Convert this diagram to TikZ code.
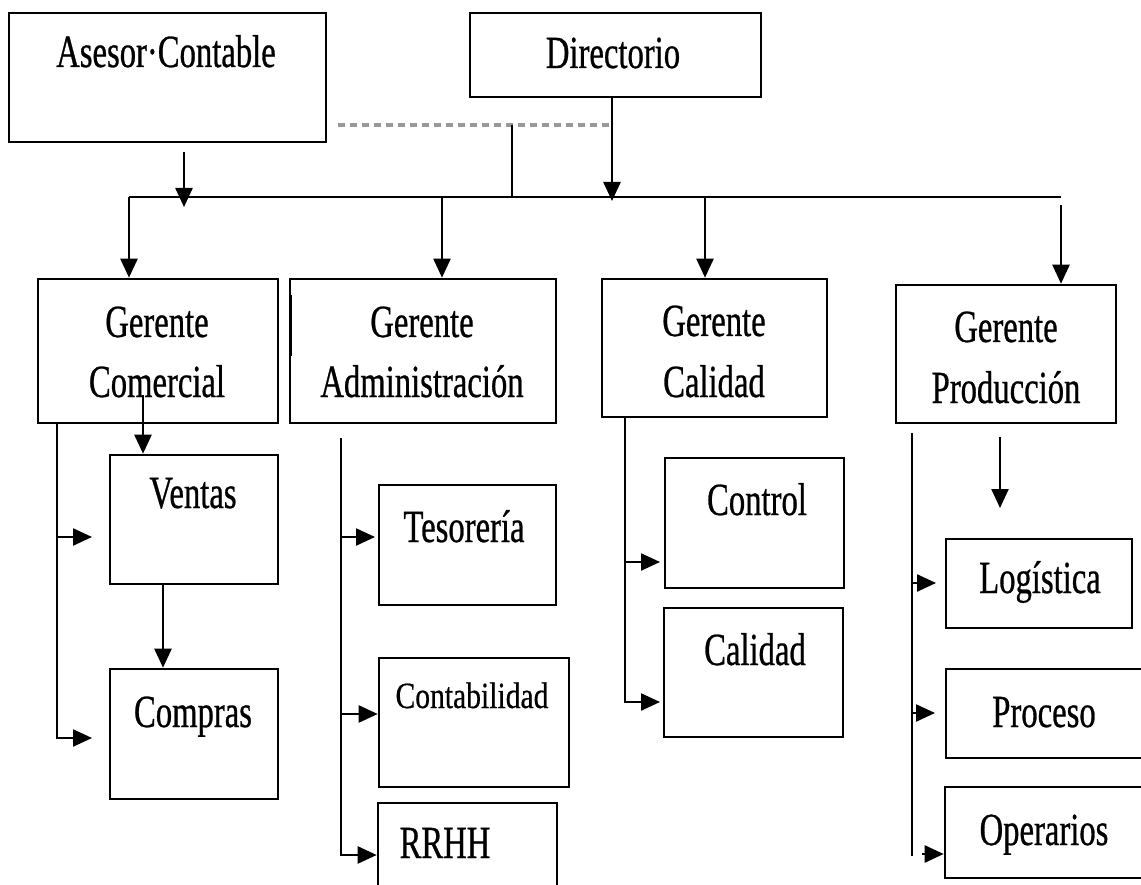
\documentclass[tikz,border=0pt]{standalone}
\usepackage{fontspec}
\setmainfont{Liberation Serif}[FakeStretch=0.71,FakeBold=0.6]
\newfontfamily\smallfam{Liberation Serif}[FakeStretch=0.8,FakeBold=0.5]
\usetikzlibrary{arrows.meta,calc}
\begin{document}
\begin{tikzpicture}[x=1pt,y=-1pt,
  box/.style={draw=black,line width=2.6pt,inner sep=0pt},
  lbl/.style={anchor=base,inner sep=0pt,font=\fontsize{46}{50}\selectfont},
  smalllbl/.style={anchor=base,inner sep=0pt,font=\smallfam\fontsize{37}{40}\selectfont},
  conn/.style={draw=black,line width=2.4pt},
  arr/.style={conn,-{Triangle[width=17pt,length=19pt]}},
  dashline/.style={draw=black!40,line width=3.5pt,dash pattern=on 7pt off 5pt}
]
\fill[white] (0,0) rectangle (1141,885);
\clip (0,0) rectangle (1141,885);

% boxes
\node[box,minimum width=317pt,minimum height=129pt] (asesor) at (167.5,77.5) {};
\node[box,minimum width=291pt,minimum height=84pt] (dir) at (615.5,55) {};
\node[box,minimum width=240pt,minimum height=144pt] (gcom) at (158,351) {};
\node[box,minimum width=266pt,minimum height=144pt] (gadm) at (423,351) {};
\node[box,minimum width=225pt,minimum height=138pt] (gcal) at (714.5,348) {};
\node[box,minimum width=220pt,minimum height=138pt] (gpro) at (1006,354) {};
\node[box,minimum width=168pt,minimum height=129pt] (ventas) at (194,519.5) {};
\node[box,minimum width=168pt,minimum height=130pt] (compras) at (194,734) {};
\node[box,minimum width=177pt,minimum height=120pt] (tes) at (467.5,545) {};
\node[box,minimum width=190pt,minimum height=129pt] (cont) at (474,722.5) {};
\node[box,minimum width=179pt,minimum height=117pt] (rrhh) at (467.5,861.5) {};
\node[box,minimum width=179pt,minimum height=130pt] (control) at (754.5,523) {};
\node[box,minimum width=179pt,minimum height=129pt] (calidad) at (753.5,672.5) {};
\node[box,minimum width=186pt,minimum height=89pt] (log) at (1039,583.5) {};
\node[box,minimum width=214pt,minimum height=89pt] (proceso) at (1053,713.5) {};
\node[box,minimum width=215pt,minimum height=91pt] (operarios) at (1052.5,832.5) {};

% labels
\node[lbl] (tAsesor) at (166,67) {Asesor·Contable};
\node[lbl] (tDir) at (613,68) {Directorio};
\node[lbl] (tGcom1) at (157,337) {Gerente};
\node[lbl] (tGcom2) at (157,397) {Comercial};
\node[lbl] (tGadm1) at (422,337) {Gerente};
\node[lbl] (tGadm2) at (422,397) {Administración};
\node[lbl] (tGcal1) at (714,336) {Gerente};
\node[lbl] (tGcal2) at (714,397) {Calidad};
\node[lbl] (tGpro1) at (1006,342) {Gerente};
\node[lbl] (tGpro2) at (1006,403) {Producción};
\node[lbl] (tVentas) at (193,508) {Ventas};
\node[lbl] (tCompras) at (193,727) {Compras};
\node[lbl] (tTes) at (464,542) {Tesorería};
\node[smalllbl] (tCont) at (472,708) {Contabilidad};
\node[lbl] (tRrhh) at (445,858) {RRHH};
\node[lbl] (tControl) at (757,515) {Control};
\node[lbl] (tCalidad) at (755,665) {Calidad};
\node[lbl] (tLog) at (1040,593) {Logística};
\node[lbl] (tProceso) at (1044,727) {Proceso};
\node[lbl] (tOper) at (1044,845) {Operarios};

% top connectors
\coordinate (dL) at (338,125);
\coordinate (dR) at (612,125);
\coordinate (jTop) at (512,125);
\coordinate (bL) at (129,197);
\coordinate (bA) at (442,197);
\coordinate (bJ) at (512,197);
\coordinate (bC) at (705,197);
\coordinate (bR) at (1061,197);
\coordinate (pTop) at (1061,205);
\coordinate (dTip) at (612,201);
\coordinate (aS) at (184,152);
\coordinate (aT) at (184,207);

\draw[dashline] (dL) -- (dR);
\draw[conn] (jTop) -- (bJ);
\draw[arr] (dir.south -| dTip) -- (dTip);
\draw[arr] (aS) -- (aT);
\draw[conn] (bL) -- (bR);
\draw[arr] (bL) -- (bL |- gcom.north);
\draw[arr] (bA) -- (bA |- gadm.north);
\draw[arr] (bC) -- (bC |- gcal.north);
\draw[arr] (pTop) -- (pTop |- gpro.north);

% Comercial
\coordinate (cv) at (143,395);
\draw[arr] (cv) -- (cv |- ventas.north);
\coordinate (cT) at (57,423);
\coordinate (cBt) at (92,738);
\draw[arr] (cT) |- (cBt);
\coordinate (cV) at (57,537);
\coordinate (cVt) at (92,537);
\draw[arr] (cV) -- (cVt);
\coordinate (vc) at (163,584);
\draw[arr] (vc) -- (vc |- compras.north);

% Administracion
\draw[line width=3pt] ($(gadm.north west)+(2,17)$) -- ($(gadm.north west)+(2,78)$);
\coordinate (aT1) at (341,438);
\coordinate (aR) at (341,855);
\draw[arr] (aT1) |- (aR -| rrhh.west);
\coordinate (aB1) at (341,537);
\coordinate (aB1t) at (375,537);
\draw[arr] (aB1) -- (aB1t);
\coordinate (aB2) at (341,714);
\draw[arr] (aB2) -- (aB2 -| cont.west);

% Calidad
\coordinate (qT) at (625,417);
\coordinate (qB) at (660,702);
\draw[arr] (qT) |- (qB);
\coordinate (qV) at (625,562);
\coordinate (qVt) at (660,562);
\draw[arr] (qV) -- (qVt);

% Produccion
\coordinate (pT) at (912,433);
\coordinate (pB) at (912,856);
\draw[conn] (pT) -- (pB);
\coordinate (pL) at (912,583);
\coordinate (pLt) at (936,583);
\draw[arr] (pL) -- (pLt);
\coordinate (pP) at (912,713);
\coordinate (pPt) at (935,713);
\draw[arr] (pP) -- (pPt);
\coordinate (pO) at (922,854);
\draw[arr] (pO) -- (pO -| operarios.west);
\coordinate (sA) at (1000,437);
\coordinate (sB) at (1000,508);
\draw[arr] (sA) -- (sB);
\end{tikzpicture}
\end{document}
